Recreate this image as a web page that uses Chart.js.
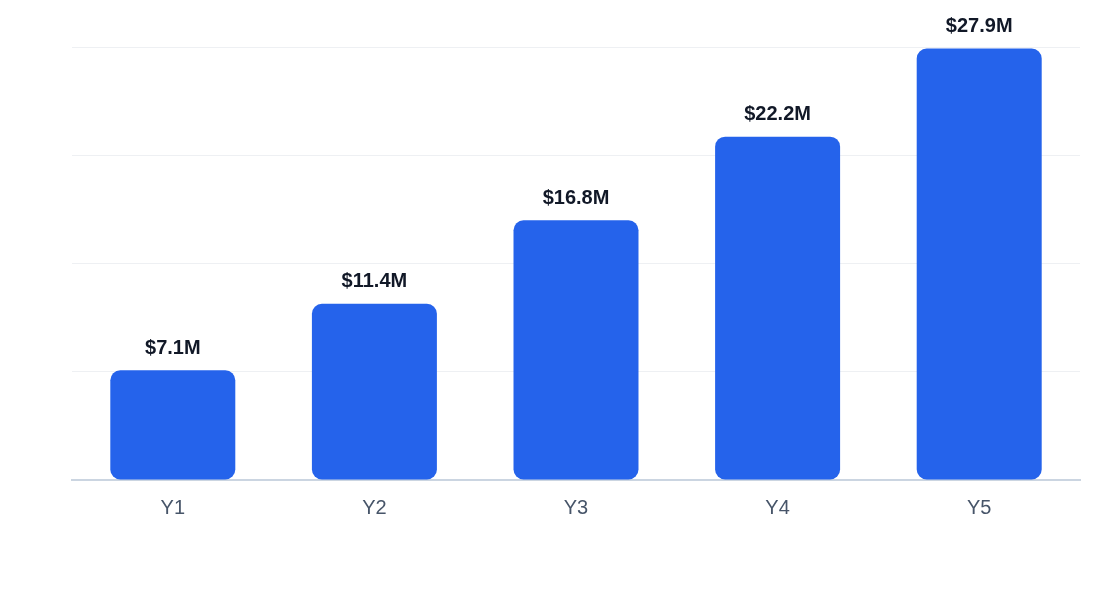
<!DOCTYPE html>
<html><head><meta charset="utf-8">
<script src="https://cdn.jsdelivr.net/npm/chart.js@4"></script>
<style>html,body{margin:0;padding:0;background:#fff}#wrap{width:1120px;height:600px}</style>
</head><body><div id="wrap"><canvas id="c"></canvas></div>
<script>
const categories = ["Y1","Y2","Y3","Y4","Y5"];
const revenue = [7.1,11.4,16.8,22.2,27.9];
const valueLabels = ["$7.1M","$11.4M","$16.8M","$22.2M","$27.9M"];
const labelPlugin = {
  id:'vl',
  afterDatasetsDraw(chart){
    const ctx = chart.ctx;
    const meta = chart.getDatasetMeta(0);
    ctx.save();
    ctx.font = 'bold 20px "Liberation Sans", Arial, sans-serif';
    ctx.fillStyle = '#111827';
    ctx.textAlign = 'center';
    ctx.textBaseline = 'bottom';
    meta.data.forEach((b,i)=>ctx.fillText(valueLabels[i], b.x, b.y - 12));
    ctx.restore();
  }
};
new Chart(document.getElementById('c'),{
  type:'bar',
  data:{labels:categories,datasets:[{data:revenue,backgroundColor:'#2563eb',borderRadius:10,borderSkipped:false,barPercentage:0.62,categoryPercentage:1}]},
  options:{
    responsive:true,maintainAspectRatio:false,animation:false,
    layout:{padding:{left:72,right:40,top:47,bottom:72}},
    plugins:{legend:{display:false},tooltip:{enabled:false}},
    scales:{
      x:{grid:{display:false},border:{color:'#cbd5e1',width:2},
         ticks:{color:'#475569',font:{size:20,family:'"Liberation Sans", Arial, sans-serif'},padding:8}},
      y:{display:true,min:0,max:28,ticks:{display:false,stepSize:7},
         grid:{color:'#eef0f3',drawTicks:false},border:{display:false}}
    }
  },
  plugins:[labelPlugin]
});
</script></body></html>
